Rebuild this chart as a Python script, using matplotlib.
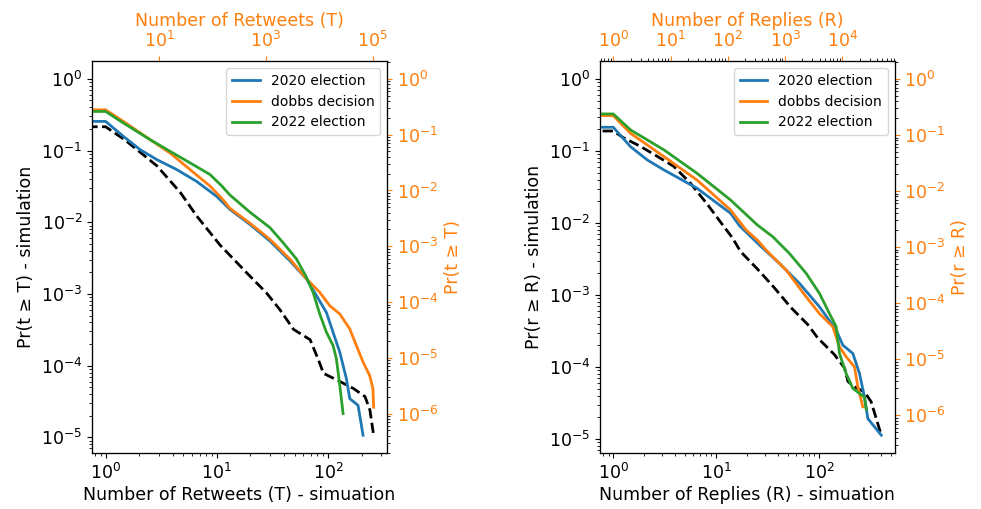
import matplotlib
matplotlib.use('Agg')
import matplotlib.pyplot as plt
import numpy as np

# ---- retweets: simulation CCDF (bottom / left axes)
rt_sim_x = [0, 1, 1.5, 2.9, 4.7, 6.6, 10.7, 19, 28, 37, 49, 69, 82, 91, 128, 169, 215, 238, 257]
rt_sim_y = [1, 0.215, 0.14, 0.061, 0.026, 0.0122, 0.0048, 0.0019, 0.00103, 0.0006, 0.00032,
            0.00023, 0.00012, 7.8e-5, 6e-5, 4.8e-5, 3.7e-5, 2.4e-5, 1.07e-5]

# ---- retweets: empirical CCDFs (top / right axes)
rt_2020_x = [0, 1, 2.15, 4.42, 9.06, 21.4, 50.7, 120, 212, 500, 1190, 2810, 5770, 8870, 13600,
             18100, 24200, 32200, 37200, 53100, 61400, 65900]
rt_2020_y = [1, 0.173, 0.0933, 0.054, 0.0358, 0.0237, 0.0145, 0.00782, 0.00458, 0.00247, 0.00124,
             5.5e-4, 2.58e-4, 1.3e-4, 6.5e-5, 2.87e-5, 1.26e-5, 4.2e-6, 1.85e-6, 1.41e-6, 6.2e-7, 4.1e-7]
rt_dobbs_x = [0, 1, 2.15, 6.8, 16, 38, 90, 150, 212, 500, 1190, 2810, 5770, 10200, 15700, 24200,
              37200, 49500, 65900, 87900, 101000, 104000]
rt_dobbs_y = [1, 0.279, 0.173, 0.0815, 0.0471, 0.0237, 0.012, 0.0072, 0.0048, 0.0026, 0.00133,
              5.9e-4, 2.6e-4, 1.49e-4, 8.6e-5, 6.1e-5, 3.3e-5, 1.66e-5, 8.4e-6, 4.8e-6, 2.8e-6, 1.3e-6]
rt_2022_x = [0, 1, 2.15, 6.8, 16, 38, 90, 150, 212, 500, 1190, 2100, 3750, 5770, 7660, 10200,
             13600, 18100, 20900, 24200, 27900]
rt_2022_y = [1, 0.261, 0.162, 0.0815, 0.0504, 0.0313, 0.0193, 0.012, 0.0083, 0.0041, 0.00216,
             0.00116, 5.9e-4, 2.76e-4, 1.49e-4, 6.1e-5, 2.87e-5, 1.66e-5, 9.6e-6, 3.2e-6, 1.0e-6]

# ---- replies: simulation CCDF
rp_sim_x = [0, 1, 1.26, 1.83, 2.67, 3.87, 5.64, 8.2, 11.9, 14.3, 17.3, 25.2, 36.6, 53.3, 77.6, 97,
            141, 177, 191, 221, 277, 321, 403]
rp_sim_y = [1, 0.189, 0.152, 0.116, 0.0843, 0.0611, 0.0355, 0.0182, 0.0089, 0.0063, 0.004, 0.00229,
            0.00127, 6.7e-4, 3.9e-4, 2.54e-4, 1.49e-4, 9.7e-5, 6.3e-5, 5.3e-5, 4.5e-5, 3.3e-5, 1.13e-5]

# ---- replies: empirical CCDFs
rp_2020_x = [0, 1, 2.0, 3.93, 7.7, 29, 112, 160, 356, 798, 1790, 3990, 7820, 10200, 15300, 20000,
             24400, 27900, 47900]
rp_2020_y = [1, 0.137, 0.0618, 0.0358, 0.0237, 0.0112, 0.004, 0.0024, 0.00109, 5.1e-4, 2.24e-4,
             8.6e-5, 3.3e-5, 1.78e-5, 1.26e-5, 5.5e-6, 2.1e-6, 8.7e-7, 4.4e-7]
rp_dobbs_x = [0, 1, 2.0, 7.7, 29, 112, 209, 329, 468, 1045, 2340, 3990, 6820, 8930, 11700, 16300,
              18700, 22800]
rp_dobbs_y = [1, 0.221, 0.107, 0.041, 0.0157, 0.00458, 0.00201, 0.00133, 8.8e-4, 3.88e-4, 1.29e-4,
              6.5e-5, 3.78e-5, 1.66e-5, 1.1e-5, 7.3e-6, 3.2e-6, 1.41e-6]
rp_2022_x = [0, 1, 2.0, 7.7, 29, 112, 329, 610, 1190, 2340, 3990, 5970, 7820, 8930, 11700, 15300,
             24400, 26200]
rp_2022_y = [1, 0.237, 0.123, 0.054, 0.0207, 0.0069, 0.00247, 0.00153, 7.7e-4, 3.39e-4, 1.49e-4,
             6.5e-5, 3.78e-5, 1.26e-5, 5.5e-6, 3.0e-6, 2.1e-6, 1.26e-6]

labels = ['2020 election', 'dobbs decision', '2022 election']
colors = ['tab:blue', 'tab:orange', 'tab:green']

plt.rcParams['font.size'] = 12.5

fig, axes = plt.subplots(1, 2, figsize=(9.81, 5.09), dpi=100)
fig.subplots_adjust(left=0.094, right=0.912, bottom=0.110, top=0.880, wspace=0.722)


def panel(ax, sim_x, sim_y, emp, sim_xlabel, sim_ylabel, emp_xlabel, emp_ylabel):
    ax.set_xscale('log')
    ax.set_yscale('log')
    ax.plot(sim_x, sim_y, 'k--', lw=2)
    ax.set_xlabel(sim_xlabel, labelpad=2)
    ax.set_ylabel(sim_ylabel)

    # empirical data on twin axes: top x, right y
    ax2 = ax.twinx()
    ax2.set_yscale('log')
    ax3 = ax2.twiny()
    ax3.set_xscale('log')
    for (x, y), lab, c in zip(emp, labels, colors):
        ax3.plot(x, y, color=c, lw=2, label=lab)
    ax2.set_ylabel(emp_ylabel, color='tab:orange')
    ax3.set_xlabel(emp_xlabel, color='tab:orange')
    ax2.tick_params(axis='y', colors='tab:orange')
    ax3.tick_params(axis='x', colors='tab:orange')
    ax3.legend(loc='upper right', fontsize=10)


panel(axes[0], rt_sim_x, rt_sim_y,
      [(rt_2020_x, rt_2020_y), (rt_dobbs_x, rt_dobbs_y), (rt_2022_x, rt_2022_y)],
      'Number of Retweets (T) - simuation', 'Pr(t ≥ T) - simulation',
      'Number of Retweets (T)', 'Pr(t ≥ T)')
panel(axes[1], rp_sim_x, rp_sim_y,
      [(rp_2020_x, rp_2020_y), (rp_dobbs_x, rp_dobbs_y), (rp_2022_x, rp_2022_y)],
      'Number of Replies (R) - simuation', 'Pr(r ≥ R) - simulation',
      'Number of Replies (R)', 'Pr(r ≥ R)')

plt.savefig('out.png', dpi=100)
